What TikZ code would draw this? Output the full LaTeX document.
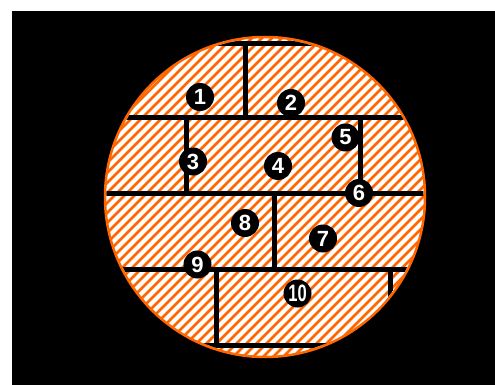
\documentclass[tikz,border=0pt]{standalone}
\usepackage{fontspec}
\usepackage{graphicx}
\setmainfont{Liberation Sans}
\definecolor{brickorange}{RGB}{255,102,0}
\tikzset{
  badge/.style={circle, fill=black, minimum size=28pt, inner sep=0pt, text=white,
    font=\bfseries\fontsize{22}{22}\selectfont},
  mortar/.style={line width=5pt, black},
  hatchline/.style={line width=2.6pt, brickorange},
}
\begin{document}
\begin{tikzpicture}[x=1pt,y=-1pt]
\useasboundingbox (0,0) rectangle (495,385);
\fill[white] (0,0) rectangle (495,385);
\fill[black] (12,11) rectangle (495,385);
% hatched disc
\begin{scope}
  \clip (265,197) circle [radius=160];
  \fill[white] (265,197) circle [radius=160];
  \foreach \k in {-300,-290,...,600}
    \draw[hatchline] (\k,400) -- (\k+420,-20);
\end{scope}
\draw[brickorange, line width=2.5pt] (265,197) circle [radius=160];
% mortar lines
\begin{scope}
  \clip (265,197) circle [radius=158.5];
  \draw[mortar] (90,43.5) -- (440,43.5);
  \draw[mortar] (90,118) -- (440,118);
  \draw[mortar] (90,193.5) -- (440,193.5);
  \draw[mortar] (90,269) -- (440,269);
  \draw[mortar] (90,345) -- (440,345);
  \draw[mortar] (245,43) -- (245,118);
  \draw[mortar] (186.5,118) -- (186.5,193.5);
  \draw[mortar] (360.5,118) -- (360.5,193.5);
  \draw[mortar] (274.5,193.5) -- (274.5,269);
  \draw[mortar] (216,269) -- (216,345);
  \draw[mortar] (390,269) -- (390,345);
\end{scope}
% numbered badges
\node[badge] (n1) at (200,97) {1};
\node[badge] (n2) at (291,103) {2};
\node[badge] (n3) at (193,161.5) {3};
\node[badge] (n4) at (278,166) {4};
\node[badge] (n5) at (345.5,137.5) {5};
\node[badge] (n6) at (359,193) {6};
\node[badge] (n7) at (323,238.5) {7};
\node[badge] (n8) at (245,223) {8};
\node[badge] (n9) at (197.5,264.5) {9};
\node[badge] (n10) at (297.5,293.5) {\scalebox{0.75}[1.08]{10}};
\end{tikzpicture}
\end{document}
